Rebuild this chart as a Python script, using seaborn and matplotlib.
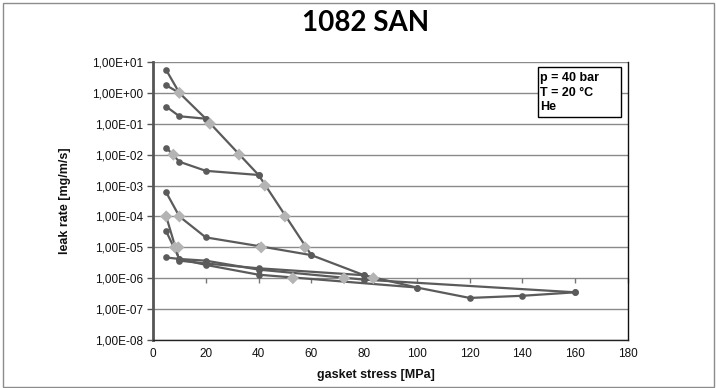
import numpy as np
import pandas as pd
import matplotlib
matplotlib.use("Agg")
import matplotlib.pyplot as plt
import seaborn as sns
from matplotlib.patches import Rectangle
from matplotlib.ticker import FuncFormatter, FixedLocator, NullLocator

# ---------------- data ----------------
load_stress = [5, 10, 20, 40, 60, 80, 100, 120, 140, 160]
load_leak = [5.5, 1.0, 0.146, 2.2e-3, 5.6e-6, 1.25e-6, 5e-7, 2.3e-7, 2.7e-7, 3.5e-7]

unl10_stress = [10, 5]
unl10_leak = [1.0, 1.76]

unl20_stress = [20, 10, 5]
unl20_leak = [0.146, 0.175, 0.36]

unl40_stress = [40, 20, 10, 5]
unl40_leak = [2.2e-3, 3.0e-3, 5.9e-3, 1.7e-2]

unl60_stress = [60, 40, 20, 10, 5]
unl60_leak = [5.6e-6, 1.1e-5, 2.1e-5, 1.0e-4, 6.0e-4]

unl80_stress = [80, 40, 20, 10, 5]
unl80_leak = [1.25e-6, 2.1e-6, 3.0e-6, 3.7e-6, 1.0e-4]

unl100_stress = [100, 40, 20, 10, 5]
unl100_leak = [5e-7, 1.3e-6, 2.7e-6, 4.2e-6, 3.3e-5]

unl160_stress = [160, 80, 40, 20, 10, 5]
unl160_leak = [3.5e-7, 9e-7, 1.9e-6, 3.7e-6, 4.2e-6, 4.7e-6]

diamond_stress = [10, 21.6, 32.6, 42.4, 50, 57.6, 7.7, 5, 10, 41, 8.3, 9.6, 53, 72.4, 83.5]
diamond_leak = [1e0, 1e-1, 1e-2, 1e-3, 1e-4, 1e-5, 1e-2, 1e-4, 1e-4, 1e-5, 1e-5, 1e-5, 1e-6, 1e-6, 1e-6]

x_ticks = [0, 20, 40, 60, 80, 100, 120, 140, 160, 180]
y_ticks = [1e1, 1e0, 1e-1, 1e-2, 1e-3, 1e-4, 1e-5, 1e-6, 1e-7, 1e-8]

title = "1082 SAN"
x_label = "gasket stress [MPa]"
y_label = "leak rate [mg/m/s]"
info_lines = ["p = 40 bar", "T = 20 °C", "He"]

# ---------------- build long-form table ----------------
series = [
    ("load", load_stress, load_leak),
    ("u10", unl10_stress, unl10_leak),
    ("u20", unl20_stress, unl20_leak),
    ("u40", unl40_stress, unl40_leak),
    ("u60", unl60_stress, unl60_leak),
    ("u80", unl80_stress, unl80_leak),
    ("u100", unl100_stress, unl100_leak),
    ("u160", unl160_stress, unl160_leak),
]
frames = []
for name, xs, ys in series:
    frames.append(pd.DataFrame({"series": name, "stress": xs, "leak": ys,
                                "order": range(len(xs))}))
df = pd.concat(frames, ignore_index=True)
dia = pd.DataFrame({"stress": diamond_stress, "leak": diamond_leak})

# ---------------- style ----------------
sns.set_theme(style="white")
plt.rcParams["font.family"] = ["Liberation Sans", "DejaVu Sans"]

W, H = 716, 388
fig = plt.figure(figsize=(W / 100, H / 100), dpi=100)
fig.patch.set_facecolor("white")
ax = fig.add_axes([153 / W, 1 - 340 / H, 475 / W, 278 / H])

ax.set_yscale("log")
ax.set_xlim(0, 180)
ax.set_ylim(1e-8, 1e1)

# grid
for v in y_ticks:
    ax.axhline(v, color="#8a8a8a", lw=1.0, zorder=0)

line_col = "#5b5b5b"
sns.lineplot(data=df, x="stress", y="leak", units="series", estimator=None,
             sort=False, color=line_col, lw=1.6, marker="o", markersize=4.8,
             markeredgewidth=0, ax=ax, legend=False, zorder=3)
sns.scatterplot(data=dia, x="stress", y="leak", marker="D", s=38,
                color="#b4b4b4", edgecolor="none", ax=ax, legend=False, zorder=4)

ax.set_xlim(0, 180)
ax.set_ylim(1e-8, 1e1)

# axes / ticks
ax.yaxis.set_major_locator(FixedLocator(y_ticks))
ax.yaxis.set_minor_locator(NullLocator())
ax.yaxis.set_major_formatter(FuncFormatter(
    lambda v, p: "1,00E{:+03d}".format(int(round(np.log10(v))))))
ax.set_xticks(x_ticks)
ax.tick_params(axis="y", direction="out", length=4, width=1, color="#555555",
               labelsize=8.5, pad=3, left=True, labelcolor="#111111")
ax.tick_params(axis="x", length=0, labelsize=8.5, pad=6, labelcolor="#111111")

for s in ["top"]:
    ax.spines[s].set_visible(False)
ax.spines["left"].set_color("#555555")
ax.spines["left"].set_linewidth(2.0)
ax.spines["bottom"].set_color("#222222")
ax.spines["bottom"].set_linewidth(1.0)
ax.spines["right"].set_color("#111111")
ax.spines["right"].set_linewidth(1.0)

# x axis crossing at 1e-6 (tick marks only)
sec = ax.secondary_xaxis(2 / 9)
sec.set_xticks(x_ticks)
sec.tick_params(axis="x", direction="out", length=3.5, width=1, color="#777777",
                labelbottom=False, labelsize=0)
sec.spines["bottom"].set_visible(False)
sec.set_xticklabels([])

ax.set_xlabel(x_label, fontsize=9, fontweight="bold", color="#111111")
ax.set_ylabel(y_label, fontsize=9, fontweight="bold", color="#111111")
ax.xaxis.set_label_coords((376 - 153) / 475, (340 - 369) / 278)
ax.yaxis.set_label_coords((71 - 153) / 475, 0.5)

# title
fig.text(366 / W, 1 - 23 / H, title, ha="center", va="center", fontsize=20,
         fontweight="bold", family=["Lato", "DejaVu Sans"], color="black")

# info box
bx0, by0, bx1, by1 = 537.5, 66.5, 620.5, 117
fig.patches.append(Rectangle((bx0 / W, 1 - by1 / H), (bx1 - bx0) / W, (by1 - by0) / H,
                             transform=fig.transFigure, facecolor="white",
                             edgecolor="black", lw=1.0, zorder=5))
for i, t in enumerate(info_lines):
    fig.text(540 / W, 1 - (78.5 + 14 * i) / H, t, ha="left", va="center",
             fontsize=9, fontweight="bold", color="black", zorder=6)

# outer frame
fig.patches.append(Rectangle((2.5 / W, 1.5 / H), (W - 5) / W, (H - 4) / H,
                             transform=fig.transFigure, fill=False,
                             edgecolor="#8c8c8c", lw=1.0))

fig.savefig("out.png", dpi=100, facecolor="white")
